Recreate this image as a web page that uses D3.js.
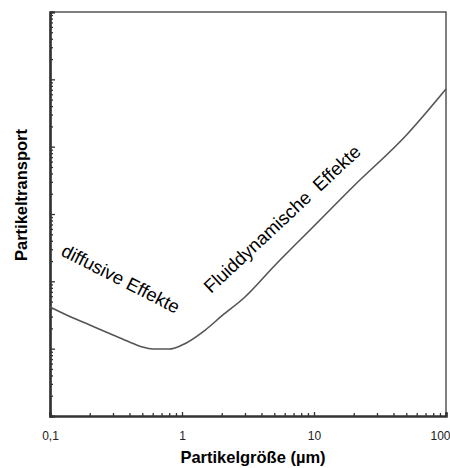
<!DOCTYPE html>
<head>
    <meta charset="utf-8">
    <script src="https://d3js.org/d3.v7.min.js"></script>
    <style>
        body { margin:0; background:#fff; }
        svg text { font-family: "Liberation Sans", Arial, sans-serif; }
    </style>
</head>
<body>
    <svg id="chart" width="450" height="468"></svg>

    <script>
        // particle size (µm) and transport (relative, log)
        var sizes     = [0.1, 0.15, 0.2, 0.3, 0.4, 0.5, 0.6, 0.8, 1, 1.5, 2, 3, 5, 10, 20, 50, 100];
        var transport = [41.6, 28.5, 22.5, 16, 12.6, 10.6, 9.9, 9.9, 11.3, 18.9, 30.6, 58.5, 169, 664, 2610, 14800, 71900];

        var xTickValues = [0.1, 1, 10, 100];
        var xTickLabels = ["0,1", "1", "10", "100"];
        var yDecades    = [1, 10, 100, 1000, 10000, 100000, 1000000];

        var margin = {left: 50, right: 4, top: 12, bottom: 52};
        var width = 450, height = 468;
        var svg = d3.select("#chart");

        var x = d3.scaleLog().domain([0.1, 100]).range([margin.left, width - margin.right]);
        var y = d3.scaleLog().domain([1, 1000000]).range([height - margin.bottom, margin.top]);

        // minor ticks 2..9 in each decade
        function minors(decades) {
            var out = [];
            decades.slice(0, -1).forEach(function(d) {
                for (var k = 2; k <= 9; k++) out.push(d * k);
            });
            return out;
        }

        // frame top / right
        svg.append("path")
            .attr("d", "M" + x(0.1) + "," + y(1000000) + "H" + x(100) + "V" + y(1))
            .attr("fill", "none")
            .attr("stroke", "#555")
            .attr("stroke-width", 1.5);

        // x axis, ticks pointing inward (separate groups so minors are kept)
        svg.append("g").attr("transform", "translate(0," + y(1) + ")")
            .call(d3.axisBottom(x).tickValues(minors(xTickValues)).tickSize(-3).tickFormat(""));
        var gx = svg.append("g").attr("transform", "translate(0," + y(1) + ")");
        gx.call(d3.axisBottom(x).tickValues(xTickValues).tickSize(-4).tickPadding(15)
            .tickFormat(function(d, i) { return xTickLabels[i]; }));
        gx.selectAll("text").style("font-size", "12px").attr("fill", "#222");
        // last label is clipped by the edge in the original, keep it just inside
        gx.selectAll("text").filter(function(d) { return d === 100; })
            .attr("text-anchor", "end").attr("dx", "4");

        // y axis, no labels
        svg.append("g").attr("transform", "translate(" + x(0.1) + ",0)")
            .call(d3.axisLeft(y).tickValues(minors(yDecades)).tickSize(-3).tickFormat(""));
        svg.append("g").attr("transform", "translate(" + x(0.1) + ",0)")
            .call(d3.axisLeft(y).tickValues(yDecades).tickSize(-5).tickFormat(""));

        svg.selectAll(".domain").attr("stroke", "#333").attr("stroke-width", 2.2);
        svg.selectAll(".tick line").attr("stroke", "#333").attr("stroke-width", 1.3);

        // curve
        var pts = sizes.map(function(s, i) { return {s: s, v: transport[i]}; });
        var line = d3.line()
            .curve(d3.curveMonotoneX)
            .x(function(d) { return x(d.s); })
            .y(function(d) { return y(d.v); });

        svg.append("path")
            .datum(pts)
            .attr("d", line)
            .attr("fill", "none")
            .attr("stroke", "#555")
            .attr("stroke-width", 1.6);

        // axis titles
        svg.append("text")
            .attr("x", 253)
            .attr("y", 463)
            .attr("text-anchor", "middle")
            .style("font-size", "16.5px")
            .style("font-weight", "bold")
            .text("Partikelgröße (µm)");

        svg.append("text")
            .attr("transform", "translate(27,195) rotate(-90)")
            .attr("text-anchor", "middle")
            .style("font-size", "16.5px")
            .style("font-weight", "bold")
            .text("Partikeltransport");

        // annotations
        svg.append("text")
            .attr("transform", "translate(60,255) rotate(27)")
            .style("font-size", "18.5px")
            .text("diffusive Effekte");

        svg.append("text")
            .attr("transform", "translate(211,294) rotate(-43)")
            .style("font-size", "18.5px")
            .style("white-space", "pre")
            .text("Fluiddynamische  Effekte");
    </script>
</body>
